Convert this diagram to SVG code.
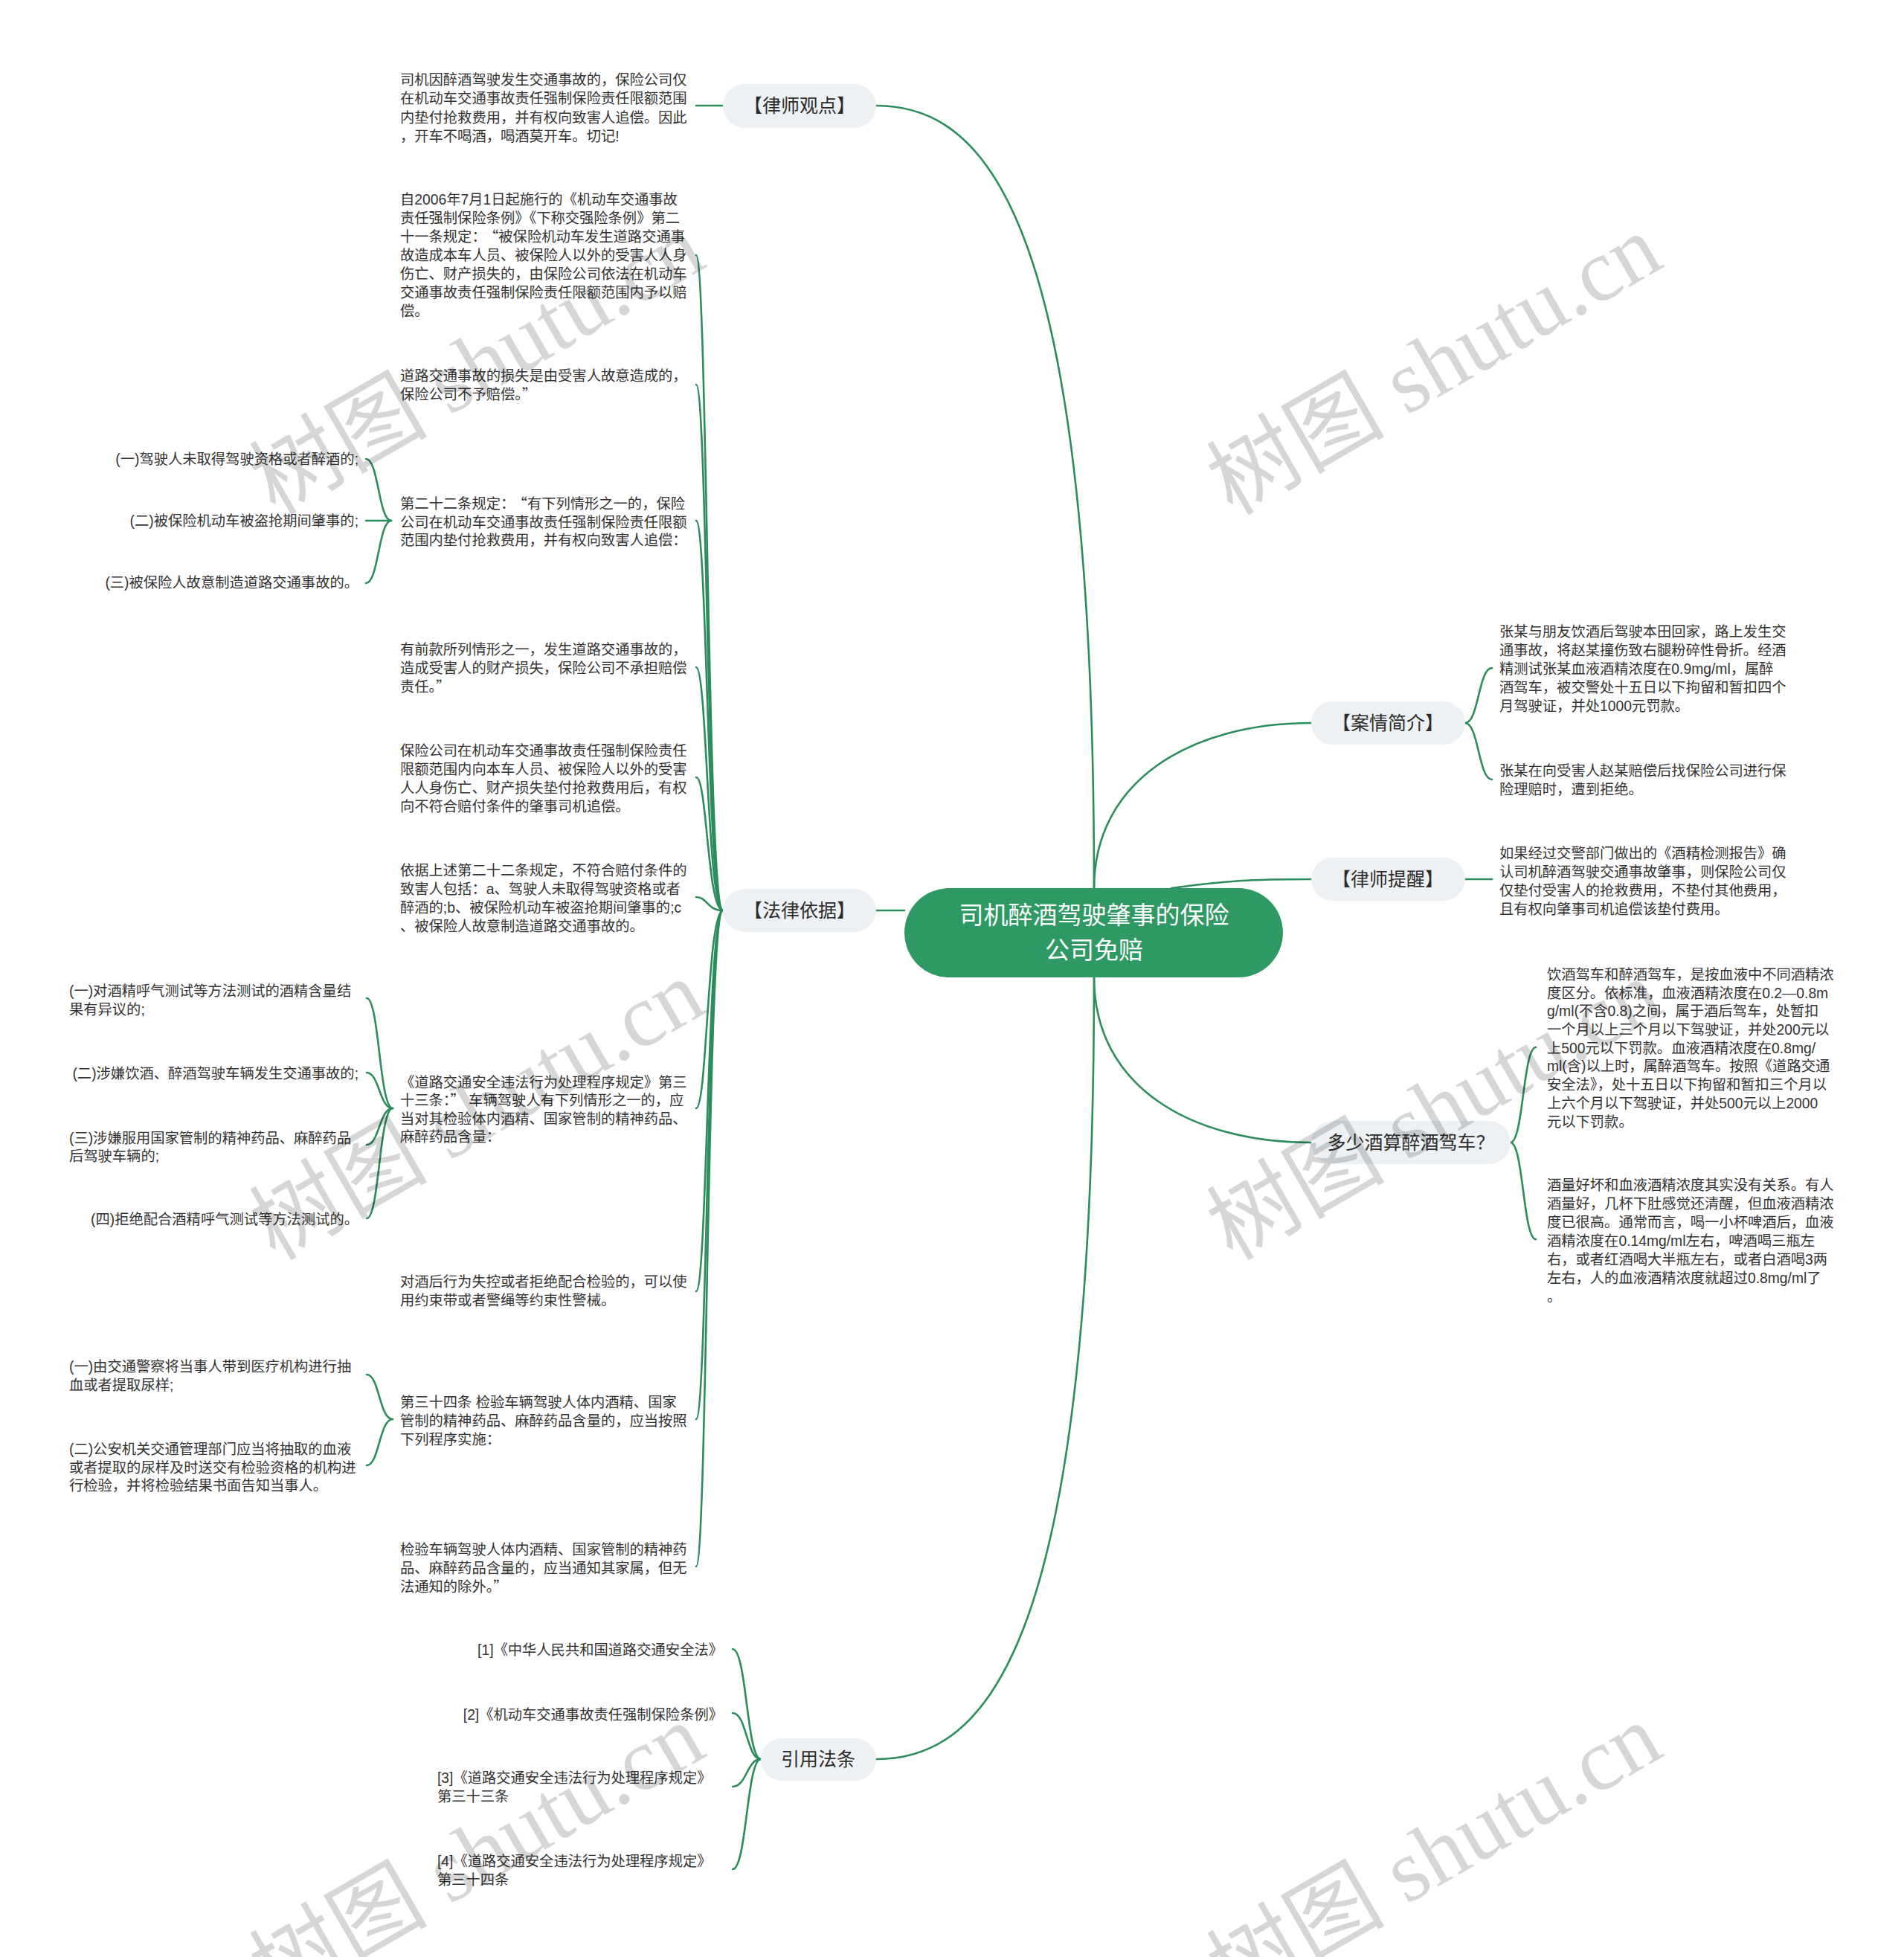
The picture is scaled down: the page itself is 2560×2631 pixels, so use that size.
<svg xmlns="http://www.w3.org/2000/svg" width="2560" height="2631" viewBox="0 0 2560 2631">
<style>
.bg{fill:#ffffff}
.c{fill:none;stroke:#2b8c5c;stroke-width:2.6;stroke-linecap:round}
.n{fill:#eef1f4}
.nt{font-family:"Liberation Sans","Noto Sans CJK SC",sans-serif;font-size:25px;fill:#2c2c2c;text-anchor:middle}
.root{fill:#2e9962}
.rt{font-family:"Liberation Sans","Noto Sans CJK SC",sans-serif;font-size:33px;fill:#ffffff;text-anchor:middle}
.t{font-family:"Liberation Sans","Noto Sans CJK SC",sans-serif;font-size:19.3px;fill:#333333}
.q{font-family:"Noto Sans CJK SC",sans-serif}
.e{text-anchor:end}
.wm{font-family:"Liberation Serif","Noto Sans CJK SC",serif;font-size:120px;fill:#000000;fill-opacity:0.16}
</style>
<rect class="bg" x="0" y="0" width="2560" height="2631"/>

<g id="connectors">
  <path class="c" d="M1178 142 C1330 142,1471 300,1471 1194"/>
  <path class="c" d="M1178 1224 L1216 1224"/>
  <path class="c" d="M1178 2365 C1330 2365,1471 2208,1471 1314"/>
  <path class="c" d="M1763 972 C1600 972,1471 1050,1471 1194"/>
  <path class="c" d="M1763 1182 C1680 1182,1650 1184,1575 1194"/>
  <path class="c" d="M1471 1314 C1471 1460,1600 1536,1763 1536"/>
  <path class="c" d="M972 142 L936 142"/>
  <path class="c" d="M972 1224 C951 1224,951 343,936 343"/>
  <path class="c" d="M972 1224 C951 1224,951 517,936 517"/>
  <path class="c" d="M972 1224 C951 1224,951 700,936 700"/>
  <path class="c" d="M972 1224 C951 1224,951 897,936 897"/>
  <path class="c" d="M972 1224 C951 1224,951 1045,936 1045"/>
  <path class="c" d="M972 1224 C951 1224,951 1206,936 1206"/>
  <path class="c" d="M972 1224 C951 1224,951 1490,936 1490"/>
  <path class="c" d="M972 1224 C951 1224,951 1736,936 1736"/>
  <path class="c" d="M972 1224 C951 1224,951 1908,936 1908"/>
  <path class="c" d="M972 1224 C951 1224,951 2106,936 2106"/>
  <path class="c" d="M526 700 C509 700,509 617,492 617"/>
  <path class="c" d="M526 700 L492 700"/>
  <path class="c" d="M526 700 C509 700,509 784,492 784"/>
  <path class="c" d="M528 1490 C510 1490,510 1342,493 1342"/>
  <path class="c" d="M528 1490 C510 1490,510 1442,493 1442"/>
  <path class="c" d="M528 1490 C510 1490,510 1539,493 1539"/>
  <path class="c" d="M528 1490 C510 1490,510 1638,493 1638"/>
  <path class="c" d="M528 1908 C510 1908,510 1848,493 1848"/>
  <path class="c" d="M528 1908 C510 1908,510 1970,493 1970"/>
  <path class="c" d="M1970 972 C1988 972,1988 898,2006 898"/>
  <path class="c" d="M1970 972 C1988 972,1988 1048,2006 1048"/>
  <path class="c" d="M1970 1182 L2006 1182"/>
  <path class="c" d="M2031 1536 C2048 1536,2048 1408,2065 1408"/>
  <path class="c" d="M2031 1536 C2048 1536,2048 1666,2065 1666"/>
  <path class="c" d="M1023 2365 C1004 2365,1004 2217,985 2217"/>
  <path class="c" d="M1023 2365 C1004 2365,1004 2303,985 2303"/>
  <path class="c" d="M1023 2365 C1004 2365,1004 2402,985 2402"/>
  <path class="c" d="M1023 2365 C1004 2365,1004 2513,985 2513"/>
</g>

<g id="root">
  <rect class="root" x="1216" y="1194" width="509" height="120" rx="60"/>
  <text class="rt" x="1471" y="1242">司机醉酒驾驶肇事的保险</text>
  <text class="rt" x="1471" y="1289">公司免赔</text>
</g>

<g id="b-lsgd">
  <rect class="n" x="972" y="113" width="206" height="59" rx="29.5"/>
  <text class="nt" x="1075" y="151">【律师观点】</text>
</g>
<g id="b-flyj">
  <rect class="n" x="972" y="1195" width="206" height="58" rx="29"/>
  <text class="nt" x="1075" y="1233">【法律依据】</text>
</g>
<g id="b-yyft">
  <rect class="n" x="1023" y="2337" width="155" height="57" rx="28.5"/>
  <text class="nt" x="1100" y="2374">引用法条</text>
</g>
<g id="b-aqjj">
  <rect class="n" x="1763" y="943" width="207" height="58" rx="29"/>
  <text class="nt" x="1866" y="981">【案情简介】</text>
</g>
<g id="b-lstx">
  <rect class="n" x="1763" y="1153" width="207" height="58" rx="29"/>
  <text class="nt" x="1866" y="1191">【律师提醒】</text>
</g>
<g id="b-dsj">
  <rect class="n" x="1763" y="1507" width="268" height="58" rx="29"/>
  <text class="nt" x="1897" y="1545">多少酒算醉酒驾车？</text>
</g>

<g id="leaf-lsgd">
  <text class="t" x="538" y="114">司机因醉酒驾驶发生交通事故的，保险公司仅</text>
  <text class="t" x="538" y="139">在机动车交通事故责任强制保险责任限额范围</text>
  <text class="t" x="538" y="165">内垫付抢救费用，并有权向致害人追偿。因此</text>
  <text class="t" x="538" y="190">，开车不喝酒，喝酒莫开车。切记!</text>
</g>

<g id="leaf-a">
  <text class="t" x="538" y="275">自2006年7月1日起施行的《机动车交通事故</text>
  <text class="t" x="538" y="300">责任强制保险条例》《下称交强险条例》第二</text>
  <text class="t" x="538" y="325">十一条规定：<tspan class="q" dx="7">“</tspan>被保险机动车发生道路交通事</text>
  <text class="t" x="538" y="350">故造成本车人员、被保险人以外的受害人人身</text>
  <text class="t" x="538" y="375">伤亡、财产损失的，由保险公司依法在机动车</text>
  <text class="t" x="538" y="400">交通事故责任强制保险责任限额范围内予以赔</text>
  <text class="t" x="538" y="425">偿。</text>
</g>
<g id="leaf-b">
  <text class="t" x="538" y="512">道路交通事故的损失是由受害人故意造成的，</text>
  <text class="t" x="538" y="537">保险公司不予赔偿。<tspan class="q">”</tspan></text>
</g>
<g id="leaf-c">
  <text class="t" x="538" y="684">第二十二条规定：<tspan class="q" dx="7">“</tspan>有下列情形之一的，保险</text>
  <text class="t" x="538" y="709">公司在机动车交通事故责任强制保险责任限额</text>
  <text class="t" x="538" y="733">范围内垫付抢救费用，并有权向致害人追偿：</text>
</g>
<g id="leaf-c1">
  <text class="t e" x="482" y="624">(一)驾驶人未取得驾驶资格或者醉酒的;</text>
</g>
<g id="leaf-c2">
  <text class="t e" x="482" y="707">(二)被保险机动车被盗抢期间肇事的;</text>
</g>
<g id="leaf-c3">
  <text class="t e" x="482" y="790">(三)被保险人故意制造道路交通事故的。</text>
</g>
<g id="leaf-d">
  <text class="t" x="538" y="880">有前款所列情形之一，发生道路交通事故的，</text>
  <text class="t" x="538" y="905">造成受害人的财产损失，保险公司不承担赔偿</text>
  <text class="t" x="538" y="930">责任。<tspan class="q">”</tspan></text>
</g>
<g id="leaf-e">
  <text class="t" x="538" y="1016">保险公司在机动车交通事故责任强制保险责任</text>
  <text class="t" x="538" y="1041">限额范围内向本车人员、被保险人以外的受害</text>
  <text class="t" x="538" y="1066">人人身伤亡、财产损失垫付抢救费用后，有权</text>
  <text class="t" x="538" y="1091">向不符合赔付条件的肇事司机追偿。</text>
</g>
<g id="leaf-f">
  <text class="t" x="538" y="1177">依据上述第二十二条规定，不符合赔付条件的</text>
  <text class="t" x="538" y="1202">致害人包括：a、驾驶人未取得驾驶资格或者</text>
  <text class="t" x="538" y="1227">醉酒的;b、被保险机动车被盗抢期间肇事的;c</text>
  <text class="t" x="538" y="1252">、被保险人故意制造道路交通事故的。</text>
</g>
<g id="leaf-g">
  <text class="t" x="538" y="1462">《道路交通安全违法行为处理程序规定》第三</text>
  <text class="t" x="538" y="1486">十三条：<tspan class="q">”</tspan> 车辆驾驶人有下列情形之一的，应</text>
  <text class="t" x="538" y="1511">当对其检验体内酒精、国家管制的精神药品、</text>
  <text class="t" x="538" y="1535">麻醉药品含量：</text>
</g>
<g id="leaf-g1">
  <text class="t" x="93" y="1339">(一)对酒精呼气测试等方法测试的酒精含量结</text>
  <text class="t" x="93" y="1364">果有异议的;</text>
</g>
<g id="leaf-g2">
  <text class="t e" x="482" y="1450">(二)涉嫌饮酒、醉酒驾驶车辆发生交通事故的;</text>
</g>
<g id="leaf-g3">
  <text class="t" x="93" y="1537">(三)涉嫌服用国家管制的精神药品、麻醉药品</text>
  <text class="t" x="93" y="1561">后驾驶车辆的;</text>
</g>
<g id="leaf-g4">
  <text class="t e" x="482" y="1646">(四)拒绝配合酒精呼气测试等方法测试的。</text>
</g>
<g id="leaf-h">
  <text class="t" x="538" y="1730">对酒后行为失控或者拒绝配合检验的，可以使</text>
  <text class="t" x="538" y="1755">用约束带或者警绳等约束性警械。</text>
</g>
<g id="leaf-i">
  <text class="t" x="538" y="1892">第三十四条 检验车辆驾驶人体内酒精、国家</text>
  <text class="t" x="538" y="1917">管制的精神药品、麻醉药品含量的，应当按照</text>
  <text class="t" x="538" y="1942">下列程序实施：</text>
</g>
<g id="leaf-i1">
  <text class="t" x="93" y="1844">(一)由交通警察将当事人带到医疗机构进行抽</text>
  <text class="t" x="93" y="1869">血或者提取尿样;</text>
</g>
<g id="leaf-i2">
  <text class="t" x="93" y="1955">(二)公安机关交通管理部门应当将抽取的血液</text>
  <text class="t" x="93" y="1980">或者提取的尿样及时送交有检验资格的机构进</text>
  <text class="t" x="93" y="2004">行检验，并将检验结果书面告知当事人。</text>
</g>
<g id="leaf-j">
  <text class="t" x="538" y="2090">检验车辆驾驶人体内酒精、国家管制的精神药</text>
  <text class="t" x="538" y="2115">品、麻醉药品含量的，应当通知其家属，但无</text>
  <text class="t" x="538" y="2140">法通知的除外。<tspan class="q">”</tspan></text>
</g>

<g id="leaf-ref1">
  <text class="t e" x="972" y="2225">[1]《中华人民共和国道路交通安全法》</text>
</g>
<g id="leaf-ref2">
  <text class="t e" x="972" y="2312">[2]《机动车交通事故责任强制保险条例》</text>
</g>
<g id="leaf-ref3">
  <text class="t" x="588" y="2397">[3]《道路交通安全违法行为处理程序规定》</text>
  <text class="t" x="588" y="2422">第三十三条</text>
</g>
<g id="leaf-ref4">
  <text class="t" x="588" y="2509">[4]《道路交通安全违法行为处理程序规定》</text>
  <text class="t" x="588" y="2534">第三十四条</text>
</g>

<g id="leaf-case1">
  <text class="t" x="2016" y="856">张某与朋友饮酒后驾驶本田回家，路上发生交</text>
  <text class="t" x="2016" y="881">通事故，将赵某撞伤致右腿粉碎性骨折。经酒</text>
  <text class="t" x="2016" y="906">精测试张某血液酒精浓度在0.9mg/ml，属醉</text>
  <text class="t" x="2016" y="931">酒驾车，被交警处十五日以下拘留和暂扣四个</text>
  <text class="t" x="2016" y="956">月驾驶证，并处1000元罚款。</text>
</g>
<g id="leaf-case2">
  <text class="t" x="2016" y="1043">张某在向受害人赵某赔偿后找保险公司进行保</text>
  <text class="t" x="2016" y="1068">险理赔时，遭到拒绝。</text>
</g>
<g id="leaf-remind">
  <text class="t" x="2016" y="1154">如果经过交警部门做出的《酒精检测报告》确</text>
  <text class="t" x="2016" y="1179">认司机醉酒驾驶交通事故肇事，则保险公司仅</text>
  <text class="t" x="2016" y="1204">仅垫付受害人的抢救费用，不垫付其他费用，</text>
  <text class="t" x="2016" y="1229">且有权向肇事司机追偿该垫付费用。</text>
</g>
<g id="leaf-drink1">
  <text class="t" x="2080" y="1317">饮酒驾车和醉酒驾车，是按血液中不同酒精浓</text>
  <text class="t" x="2080" y="1342">度区分。依标准，血液酒精浓度在0.2—0.8m</text>
  <text class="t" x="2080" y="1366">g/ml(不含0.8)之间，属于酒后驾车，处暂扣</text>
  <text class="t" x="2080" y="1391">一个月以上三个月以下驾驶证，并处200元以</text>
  <text class="t" x="2080" y="1416">上500元以下罚款。血液酒精浓度在0.8mg/</text>
  <text class="t" x="2080" y="1440">ml(含)以上时，属醉酒驾车。按照《道路交通</text>
  <text class="t" x="2080" y="1465">安全法》，处十五日以下拘留和暂扣三个月以</text>
  <text class="t" x="2080" y="1490">上六个月以下驾驶证，并处500元以上2000</text>
  <text class="t" x="2080" y="1515">元以下罚款。</text>
</g>
<g id="leaf-drink2">
  <text class="t" x="2080" y="1600">酒量好坏和血液酒精浓度其实没有关系。有人</text>
  <text class="t" x="2080" y="1625">酒量好，几杯下肚感觉还清醒，但血液酒精浓</text>
  <text class="t" x="2080" y="1650">度已很高。通常而言，喝一小杯啤酒后，血液</text>
  <text class="t" x="2080" y="1675">酒精浓度在0.14mg/ml左右，啤酒喝三瓶左</text>
  <text class="t" x="2080" y="1700">右，或者红酒喝大半瓶左右，或者白酒喝3两</text>
  <text class="t" x="2080" y="1725">左右，人的血液酒精浓度就超过0.8mg/ml了</text>
  <text class="t" x="2080" y="1750">。</text>
</g>

<g id="watermark">
  <text class="wm" x="370" y="694" transform="rotate(-30 370 694)">树图 shutu.cn</text>
  <text class="wm" x="1657" y="694" transform="rotate(-30 1657 694)">树图 shutu.cn</text>
  <text class="wm" x="370" y="1696" transform="rotate(-30 370 1696)">树图 shutu.cn</text>
  <text class="wm" x="1657" y="1696" transform="rotate(-30 1657 1696)">树图 shutu.cn</text>
  <text class="wm" x="370" y="2696" transform="rotate(-30 370 2696)">树图 shutu.cn</text>
  <text class="wm" x="1657" y="2696" transform="rotate(-30 1657 2696)">树图 shutu.cn</text>
</g>
</svg>
